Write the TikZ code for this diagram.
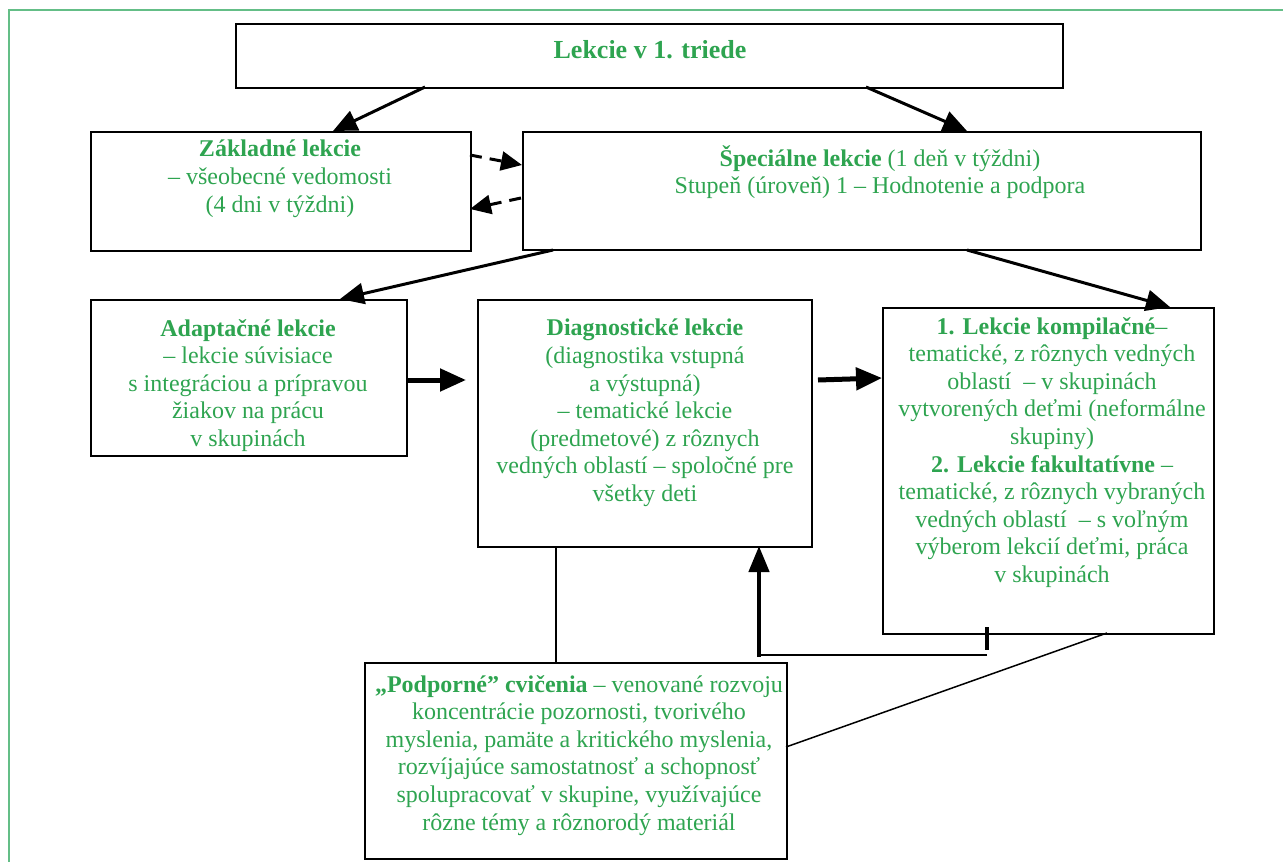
\documentclass[tikz,border=0pt]{standalone}
\usepackage{fontspec}
\setmainfont{Liberation Serif}
\usetikzlibrary{arrows.meta,calc}
\definecolor{txtgreen}{RGB}{46,164,80}
\definecolor{framegreen}{RGB}{100,190,135}
\tikzset{
  box/.style={draw=black,line width=2pt,inner sep=0pt,anchor=north west},
  txt/.style={text=txtgreen,align=center,font=\fontsize{24}{27.6}\selectfont,inner sep=0pt,anchor=north},
  arr/.style={line width=3pt,-{Triangle[length=24pt,width=21pt]}},
  thickarr/.style={line width=5pt,-{Triangle[length=26pt,width=22pt]}},
  dasharr/.style={line width=3pt,dash pattern=on 12pt off 8pt,-{Triangle[length=21pt,width=19pt]}},
  plain/.style={line width=1.5pt},
}
\begin{document}
\begin{tikzpicture}[x=1pt,y=-1pt]
\useasboundingbox (0,0) rectangle (1283,862);
\draw[framegreen,line width=2pt] (1283,10) -- (9,10) -- (9,862);
% boxes
\node[box,minimum width=827pt,minimum height=64pt] (top) at (235,23) {};
\node[box,minimum width=380pt,minimum height=119pt] (zak) at (90,131) {};
\node[box,minimum width=678pt,minimum height=118pt] (spec) at (522,131) {};
\node[box,minimum width=316pt,minimum height=156pt] (adap) at (90,299) {};
\node[box,minimum width=334pt,minimum height=247pt] (diag) at (477,299) {};
\node[box,minimum width=331pt,minimum height=326pt] (komp) at (882,307) {};
\node[box,minimum width=422pt,minimum height=196pt] (podp) at (364,662) {};
% texts
\node[txt,font=\bfseries\fontsize{26}{30}\selectfont] (ttop) at (650,40) {Lekcie v 1. triede};
\node[txt] (tzak) at (280,140) {\textbf{Základné lekcie}\\– všeobecné vedomosti\\(4 dni v týždni)};
\node[txt] (tspec) at (880,145) {\textbf{Špeciálne lekcie} (1 deň v týždni)\\Stupeň (úroveň) 1 – Hodnotenie a podpora};
\node[txt] (tadap) at (248,319) {\textbf{Adaptačné lekcie}\\– lekcie súvisiace\\s integráciou a prípravou\\žiakov na prácu\\v skupinách};
\node[txt] (tdiag) at (645,319) {\textbf{Diagnostické lekcie}\\(diagnostika vstupná\\a výstupná)\\– tematické lekcie\\(predmetové) z rôznych\\vedných oblastí – spoločné pre\\všetky deti};
\node[txt] (tkomp) at (1052,317) {\textbf{1. Lekcie kompilačné}–\\tematické, z rôznych vedných\\oblastí \ – v skupinách\\vytvorených deťmi (neformálne\\skupiny)\\\textbf{2. Lekcie fakultatívne} –\\tematické, z rôznych vybraných\\vedných oblastí \ – s voľným\\výberom lekcií deťmi, práca\\v skupinách};
\node[txt] (tpodp) at (579,675) {\textbf{„Podporné” cvičenia} – venované rozvoju\\koncentrácie pozornosti, tvorivého\\myslenia, pamäte a kritického myslenia,\\rozvíjajúce samostatnosť a schopnosť\\spolupracovať v skupine, využívajúce\\rôzne témy a rôznorodý materiál};
% connector coordinates
\coordinate (c1) at (425,87);
\coordinate (c2) at (333,131);
\coordinate (c3) at (866,87);
\coordinate (c4) at (967,131);
\coordinate (d1) at (470,155);
\coordinate (d2) at (522,165);
\coordinate (d3) at (521,198);
\coordinate (d4) at (470,209);
\coordinate (e1) at (553,250);
\coordinate (e2) at (340,299);
\coordinate (e3) at (967,250);
\coordinate (e4) at (1170,307);
\coordinate (f1) at (406,380);
\coordinate (f2) at (466,380);
\coordinate (g1) at (818,380);
\coordinate (g2) at (882,378);
\coordinate (h1) at (987,633);
\coordinate (h2) at (987,655);
\coordinate (h3) at (759,655);
\coordinate (h4) at (759,546);
\coordinate (i1) at (556,546);
\coordinate (i2) at (556,662);
\coordinate (j1) at (1107,633);
\coordinate (j2) at (786,747);
% connectors
\draw[arr] (c1) -- (c2);
\draw[arr] (c3) -- (c4);
\draw[dasharr] (d1) -- (d2);
\draw[dasharr] (d3) -- (d4);
\draw[arr] (e1) -- (e2);
\draw[arr] (e3) -- (e4);
\draw[thickarr] (f1) -- (f2);
\draw[thickarr] (g1) -- (g2);
\draw[line width=4pt] (987,627) -- (987,650);
\draw[line width=2pt] (h2) -- (h3);
\draw[line width=4.5pt,-{Triangle[length=26pt,width=20pt]}] ($(h3)+(0,2)$) -- (h4);
\draw[plain] (i1) -- (i2);
\draw[plain] (j1) -- (j2);
\end{tikzpicture}
\end{document}
